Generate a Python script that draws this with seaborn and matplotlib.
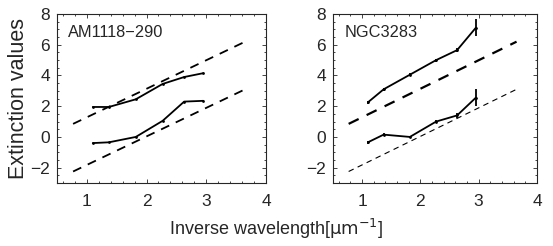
"""Extinction curves for two galaxies, solid = measured, dashed = reference laws."""
import matplotlib.pyplot as plt
import numpy as np
import pandas as pd
import seaborn as sns
from matplotlib.ticker import AutoMinorLocator

inv_wl = [1.1, 1.37, 1.82, 2.27, 2.63, 2.95]

am_upper = [1.95, 1.95, 2.45, 3.45, 3.9, 4.15]
am_lower = [-0.4, -0.35, 0.0, 1.05, 2.3, 2.35]

ngc_upper = [2.25, 3.1, 4.05, 5.0, 5.65, 7.1]
ngc_upper_err = [0.08, 0.08, 0.08, 0.1, 0.15, 0.55]
ngc_lower = [-0.35, 0.15, 0.0, 1.0, 1.4, 2.55]
ngc_lower_err = [0.08, 0.08, 0.08, 0.1, 0.15, 0.55]

ref_x = [0.77, 3.65]
ref_upper = [0.85, 6.2]
ref_lower = [-2.25, 3.1]

sns.set_style('ticks')
plt.rcParams['font.family'] = ['Liberation Sans', 'DejaVu Sans']
plt.rcParams['axes.unicode_minus'] = True

fig = plt.figure(figsize=(5.53, 2.46), dpi=100)
ax1 = fig.add_axes([0.103, 0.256, 0.378, 0.687])
ax2 = fig.add_axes([0.602, 0.256, 0.369, 0.687])

panels = [
    (ax1, 'AM1118\u2212290', am_upper, am_lower, None, None, 1.3, 1.3),
    (ax2, 'NGC3283', ngc_upper, ngc_lower, ngc_upper_err, ngc_lower_err,
     1.6, 0.8),
]

for ax, name, upper, lower, up_err, lo_err, dash_w, dash_w2 in panels:
    df = pd.DataFrame({'x': inv_wl, 'upper': upper, 'lower': lower})
    ref = pd.DataFrame({'x': ref_x, 'upper': ref_upper, 'lower': ref_lower})
    sns.lineplot(data=ref, x='x', y='upper', ax=ax, color='black',
                 lw=dash_w, linestyle=(0, (5, 4)))
    sns.lineplot(data=ref, x='x', y='lower', ax=ax, color='black',
                 lw=dash_w2, linestyle=(0, (5, 4)))
    for col, err in (('upper', up_err), ('lower', lo_err)):
        sns.lineplot(data=df, x='x', y=col, ax=ax, color='black', lw=1.3,
                     marker='o', markersize=2, markeredgewidth=0)
        if err is not None:
            ax.errorbar(df['x'], df[col], yerr=err, fmt='none',
                        ecolor='black', elinewidth=1.3, capsize=0)

    ax.set_xlim(0.5, 4)
    ax.set_ylim(-3, 8)
    ax.set_xticks([1, 2, 3, 4])
    ax.set_yticks([-2, 0, 2, 4, 6, 8])
    ax.xaxis.set_minor_locator(AutoMinorLocator(5))
    ax.yaxis.set_minor_locator(AutoMinorLocator(4))
    ax.tick_params(which='both', direction='in', top=True, right=True,
                   labelsize=12.5, width=0.6)
    ax.tick_params(which='major', length=3)
    ax.tick_params(which='minor', length=1.5)
    ax.tick_params(axis='x', pad=8)
    ax.tick_params(axis='y', pad=5)
    for sp in ax.spines.values():
        sp.set_linewidth(0.8)
    ax.set_xlabel('')
    ax.set_ylabel('')
    ax.text(0.055, 0.893, name, transform=ax.transAxes, fontsize=11.8,
            va='center', ha='left')

ax1.set_ylabel('Extinction values', fontsize=15.5, labelpad=1)
fig.text(0.5, 0.02, r'Inverse wavelength[$\mathrm{\mu m^{-1}}$]',
         fontsize=13, ha='center', va='bottom')

fig.savefig('out.png', dpi=100)
